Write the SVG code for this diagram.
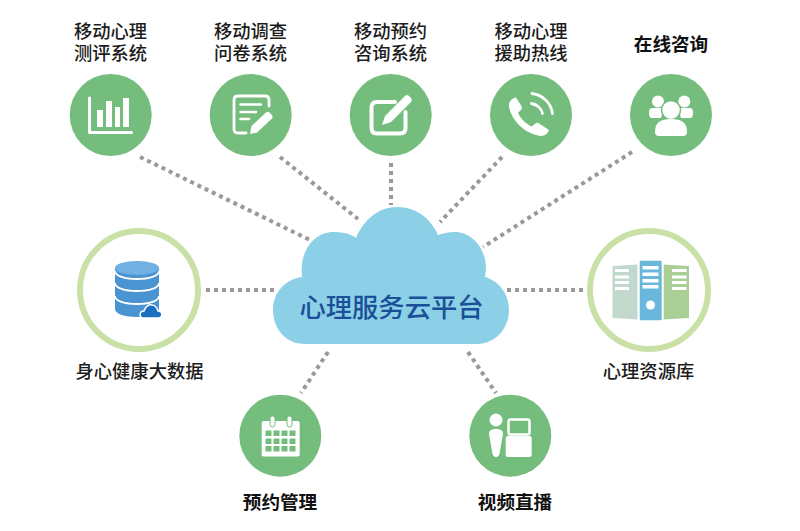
<svg xmlns="http://www.w3.org/2000/svg" width="800" height="531" viewBox="0 0 800 531">
<style>
text{font-family:"Liberation Sans","Noto Sans CJK SC",sans-serif;fill:#1c1c1c;text-anchor:middle;font-size:18.300px;font-weight:500}
.b{font-weight:700;font-size:18.600px;fill:#111}
.c{font-size:26.300px;fill:#1b4f97;font-weight:500}
.g{fill:#75bd7c}
.r{fill:#fff;stroke:#c9e1a6;stroke-width:6}
.w{fill:#fff}
.s{fill:none;stroke:#fff;stroke-linecap:round;stroke-linejoin:round}
.dot{fill:none;stroke:#999;stroke-width:4;stroke-dasharray:4 4}
</style>
<rect width="800" height="531" fill="#fff"/>
<g id="connectors">
<path class="dot" d="M140 157L310 240"/>
<path class="dot" d="M280 157L358 219"/>
<path class="dot" d="M391 163V205"/>
<path class="dot" d="M502 157L440 222"/>
<path class="dot" d="M632 152L483 247"/>
<path class="dot" d="M206 290H274"/>
<path class="dot" d="M507 290H584"/>
<path class="dot" d="M328 352L301 393"/>
<path class="dot" d="M468 352L496 393"/>
</g>
<g id="cloud">
<path fill="#8bd0e6" d="M305 344C285 344 273 328 273 310C273 292 286 279 302 277C299 250 315 232 333 232C343 232 351 234 356 238C364 219 379 207 397 207C417 207 431 219 438 235C444 233 449 232 455 232C474 232 490 253 485 277C499 281 509 294 509 310C509 329 495 344 477 344Z"/>
<text class="c" x="391.500" y="317">心理服务云平台</text>
</g>
<g id="n1">
<text x="110.500" y="38">移动心理</text><text x="110.500" y="60">测评系统</text>
<circle class="g" cx="110.700" cy="115" r="41"/>
<path class="s" stroke-width="3" d="M89.500 98V132.500H131.500"/>
<path class="w" d="M97 110h6v17h-6zM106 101h6v26h-6zM115 107h5v20h-5zM123 98h6v29h-6z"/>
</g>
<g id="n2">
<text x="250.500" y="38">移动调查</text><text x="250.500" y="60">问卷系统</text>
<circle class="g" cx="250.700" cy="115" r="41"/>
<path class="s" stroke-width="2.800" d="M269 106V100Q269 96 265 96H238Q234 96 234 100V129Q234 133 238 133H246"/>
<path class="s" stroke-width="2.500" d="M240.500 104.500H261M240.500 112H256M240.500 119H249"/>
<path class="w" d="M250 134L251.500 126L266 112.500Q268 111 270 113L272 115Q273 117 272 118.500L257 132.500Z"/>
</g>
<g id="n3">
<text x="390.500" y="38">移动预约</text><text x="390.500" y="60">咨询系统</text>
<circle class="g" cx="390.700" cy="115" r="41"/>
<path class="s" stroke-width="4" d="M395 102H377Q371.500 102 371.500 107.500V128Q371.500 133.500 377 133.500H400Q405.500 133.500 405.500 128V112"/>
<path class="w" d="M382 125L385 116L405 96Q407 94 409 96L411 98Q412.500 100 411 102L391 122Z"/>
</g>
<g id="n4">
<text x="531" y="38">移动心理</text><text x="531" y="60">援助热线</text>
<circle class="g" cx="531" cy="115" r="41"/>
<path class="w" d="M509 107C508 102 512 98 516 97.500L522 107C522 110 520 111 518 112.500C520 118 526 124 532 126.500C534 125 535 123 537.500 122.500L549 130C548 133 545 136 541 136C525 134 512 121 509 107Z"/>
<path class="s" stroke-width="2.800" d="M532 93.500C543 95 551 103 552.500 113.500M531.500 103.500C537 104.500 541.500 108.500 542.500 113.500"/>
</g>
<g id="n5">
<text class="b" x="671" y="51">在线咨询</text>
<circle class="g" cx="671" cy="115" r="41"/>
<circle class="w" cx="658" cy="101.500" r="6"/><circle class="w" cx="684.300" cy="101.500" r="6"/>
<path class="w" d="M652 108H664L661 118H652Q649 118 649 113Q649 108 652 108ZM690 108H678L681 118H690Q693 118 693 113Q693 108 690 108Z"/>
<circle class="w" cx="671" cy="110" r="9.500" stroke="#75bd7c" stroke-width="1.500"/>
<path class="w" d="M655 132C655 122 661 119 671 119C681 119 687 122 687 132Q687 136 683 136H659Q655 136 655 132Z"/>
</g>
<g id="n6">
<circle class="r" cx="139" cy="290" r="59"/>
<path fill="#4a94d2" d="M115 268V309C115 314 125 317 137 317C149 317 159 314 159 309V268Z"/>
<ellipse cx="137" cy="268" rx="22" ry="7" fill="#70b0e2"/>
<path fill="none" stroke="#fff" stroke-width="1.800" d="M115 271C115 276 125 279 137 279C149 279 159 276 159 271M115 283C115 288 125 291 137 291C149 291 159 288 159 283M115 296C115 301 125 304 137 304C149 304 159 301 159 296"/>
<path fill="#1a6fc0" stroke="#fff" stroke-width="1.500" d="M143 318C139 318 139 311 144 311C145 307 149 304 152 305C155 305 157 308 158 311C163 311 163 318 158 318Z"/>
<text x="139.500" y="378">身心健康大数据</text>
</g>
<g id="n7">
<circle class="r" cx="649" cy="290" r="59"/>
<path fill="#c3d8cc" d="M612.500 266L637.500 264.500V319.500L612.500 318Z"/>
<rect x="639.700" y="260.700" width="22" height="59.500" rx="1" fill="#6ab7dc"/>
<path fill="#a9cf97" d="M663.700 264.500L689 266V318L663.700 319.500Z"/>
<path class="w" d="M615 269h14v3h-14zM615 275.500h14v3h-14zM615 281h14v3h-14zM615 287h14v3h-14zM642.500 266h16v3.500h-16zM642.500 272.500h16v3.500h-16zM642.500 279h16v3.500h-16zM642.500 285h16v3.500h-16zM672 269h14.500v3h-14.500zM672 275.500h14.500v3h-14.500zM672 281h14.500v3h-14.500zM672 287h14.500v3h-14.500z"/>
<circle class="w" cx="650.500" cy="305" r="4.500"/>
<text x="648.500" y="378">心理资源库</text>
</g>
<g id="n8">
<circle class="g" cx="280.300" cy="435.700" r="41"/>
<rect class="w" x="261.700" y="421" width="38" height="35.500" rx="2"/>
<path class="g" d="M265.500 430.500h6v5.500h-6zM273.500 430.500h6v5.500h-6zM281.500 430.500h6v5.500h-6zM289.500 430.500h6v5.500h-6zM265.500 438.500h6v5.500h-6zM273.500 438.500h6v5.500h-6zM281.500 438.500h6v5.500h-6zM289.500 438.500h6v5.500h-6zM265.500 446h6v5.500h-6zM273.500 446h6v5.500h-6zM281.500 446h6v5.500h-6zM289.500 446h6v5.500h-6z"/>
<rect x="270" y="416" width="5" height="11" rx="2.500" class="w" stroke="#75bd7c" stroke-width="1"/>
<rect x="287" y="416" width="5" height="11" rx="2.500" class="w" stroke="#75bd7c" stroke-width="1"/>
<text class="b" x="280" y="509">预约管理</text>
</g>
<g id="n9">
<circle class="g" cx="510.300" cy="435.700" r="41"/>
<circle class="w" cx="496" cy="420" r="6.500"/>
<path class="w" d="M489 434C489 430 492 429 496 429C500 429 503 430 503 434L499.500 454Q498.500 457 496 457Q493.500 457 492.500 454Z"/>
<rect x="508.500" y="419.500" width="21" height="15" rx="2" fill="none" stroke="#fff" stroke-width="2.500"/>
<rect class="w" x="505.700" y="436" width="26" height="21" rx="2"/>
<text class="b" x="515" y="509">视频直播</text>
</g>
</svg>
